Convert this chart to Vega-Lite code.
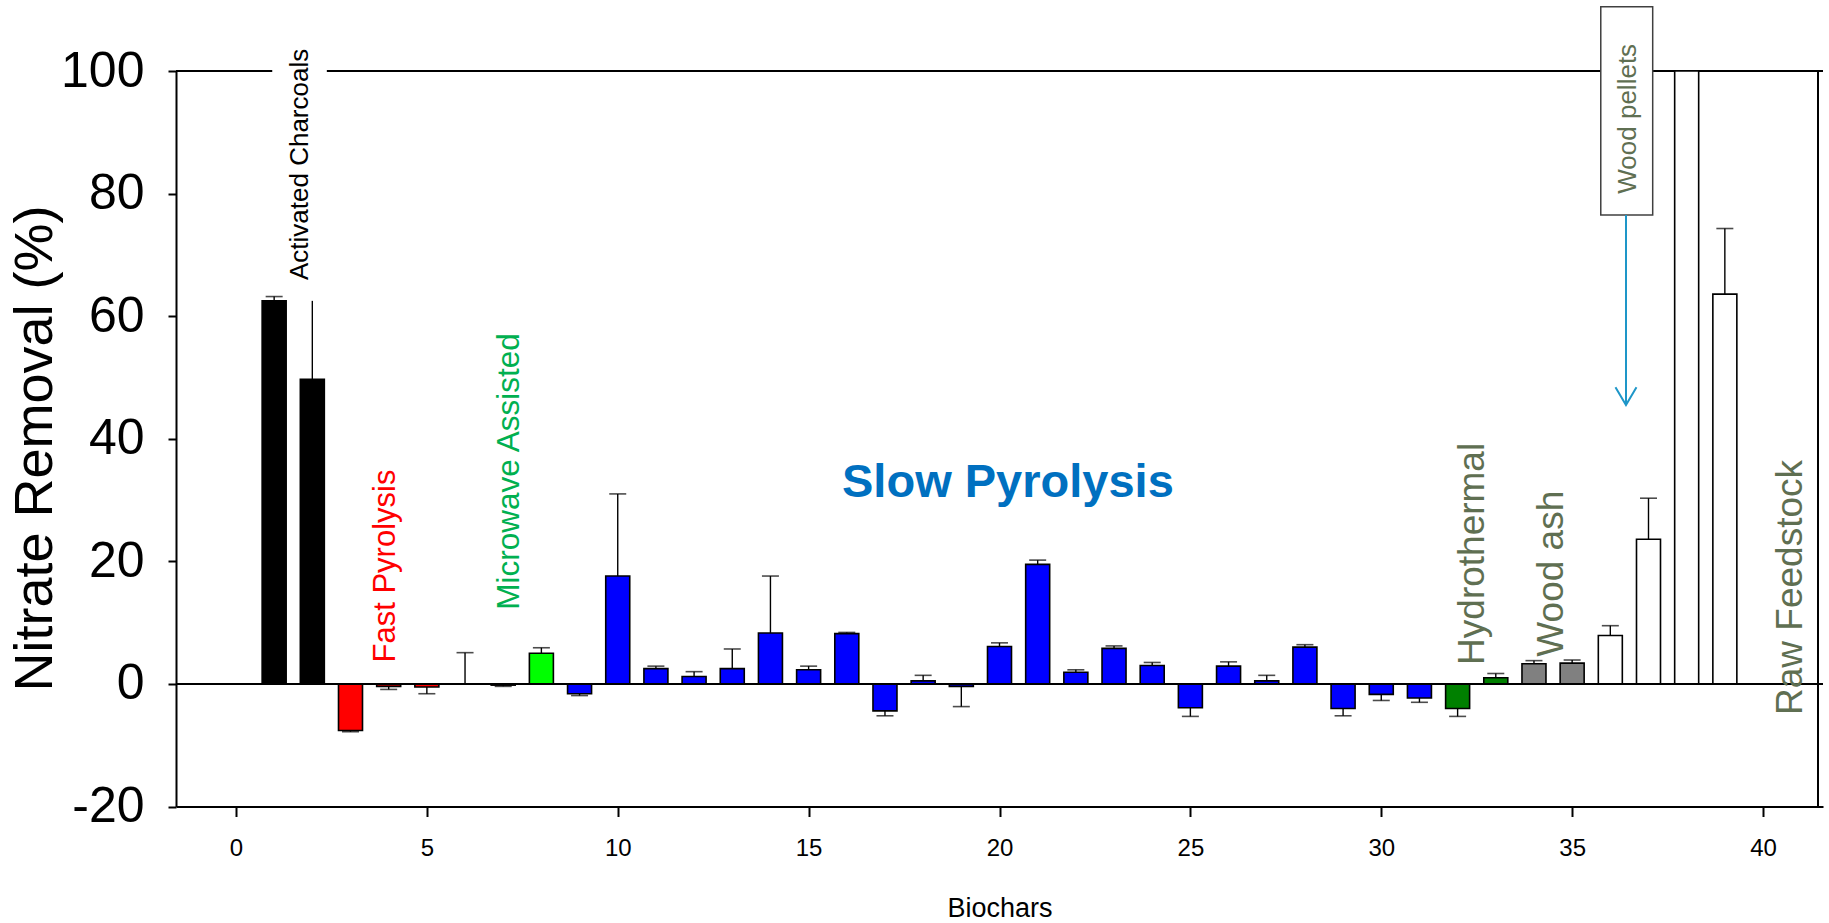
{
  "$schema": "https://vega.github.io/schema/vega-lite/v6.json",
  "width": 1647,
  "height": 735.5,
  "autosize": "none",
  "padding": {"left": 176, "top": 71, "right": 6, "bottom": 116.5},
  "background": "white",
  "config": {"view": {"stroke": null}, "axis": {"grid": false}},
  "data": {"values": [{}]},
  "datasets": {
    "bars": [
      {"n": 1, "g": "Activated charcoal", "v": 62.5, "e": 63.2, "c": 63.2},
      {"n": 2, "g": "Activated charcoal", "v": 49.7, "e": 62.5, "c": null},
      {"n": 3, "g": "Fast pyrolysis", "v": -7.6, "e": -7.8, "c": -7.8},
      {"n": 4, "g": "Fast pyrolysis", "v": -0.4, "e": -0.9, "c": -0.9},
      {"n": 5, "g": "Fast pyrolysis", "v": -0.5, "e": -1.6, "c": -1.6},
      {"n": 6, "g": "Fast pyrolysis", "v": 0, "e": 5.1, "c": 5.1},
      {"n": 7, "g": "Fast pyrolysis", "v": -0.2, "e": -0.4, "c": -0.4},
      {"n": 8, "g": "Microwave assisted", "v": 5.0, "e": 5.9, "c": 5.9},
      {"n": 9, "g": "Slow pyrolysis", "v": -1.6, "e": -1.9, "c": -1.9},
      {"n": 10, "g": "Slow pyrolysis", "v": 17.6, "e": 31.0, "c": 31.0},
      {"n": 11, "g": "Slow pyrolysis", "v": 2.5, "e": 2.9, "c": 2.9},
      {"n": 12, "g": "Slow pyrolysis", "v": 1.2, "e": 2.0, "c": 2.0},
      {"n": 13, "g": "Slow pyrolysis", "v": 2.5, "e": 5.7, "c": 5.7},
      {"n": 14, "g": "Slow pyrolysis", "v": 8.3, "e": 17.6, "c": 17.6},
      {"n": 15, "g": "Slow pyrolysis", "v": 2.3, "e": 2.9, "c": 2.9},
      {"n": 16, "g": "Slow pyrolysis", "v": 8.2, "e": 8.4, "c": 8.4},
      {"n": 17, "g": "Slow pyrolysis", "v": -4.4, "e": -5.2, "c": -5.2},
      {"n": 18, "g": "Slow pyrolysis", "v": 0.5, "e": 1.4, "c": 1.4},
      {"n": 19, "g": "Slow pyrolysis", "v": -0.4, "e": -3.7, "c": -3.7},
      {"n": 20, "g": "Slow pyrolysis", "v": 6.1, "e": 6.7, "c": 6.7},
      {"n": 21, "g": "Slow pyrolysis", "v": 19.5, "e": 20.2, "c": 20.2},
      {"n": 22, "g": "Slow pyrolysis", "v": 1.9, "e": 2.3, "c": 2.3},
      {"n": 23, "g": "Slow pyrolysis", "v": 5.8, "e": 6.2, "c": 6.2},
      {"n": 24, "g": "Slow pyrolysis", "v": 3.0, "e": 3.5, "c": 3.5},
      {"n": 25, "g": "Slow pyrolysis", "v": -3.9, "e": -5.3, "c": -5.3},
      {"n": 26, "g": "Slow pyrolysis", "v": 2.9, "e": 3.6, "c": 3.6},
      {"n": 27, "g": "Slow pyrolysis", "v": 0.5, "e": 1.4, "c": 1.4},
      {"n": 28, "g": "Slow pyrolysis", "v": 6.0, "e": 6.4, "c": 6.4},
      {"n": 29, "g": "Slow pyrolysis", "v": -4.0, "e": -5.2, "c": -5.2},
      {"n": 30, "g": "Slow pyrolysis", "v": -1.7, "e": -2.7, "c": -2.7},
      {"n": 31, "g": "Slow pyrolysis", "v": -2.3, "e": -3.0, "c": -3.0},
      {"n": 32, "g": "Hydrothermal", "v": -4.0, "e": -5.3, "c": -5.3},
      {"n": 33, "g": "Hydrothermal", "v": 1.0, "e": 1.7, "c": 1.7},
      {"n": 34, "g": "Wood ash", "v": 3.3, "e": 3.8, "c": 3.8},
      {"n": 35, "g": "Wood ash", "v": 3.4, "e": 3.9, "c": 3.9},
      {"n": 36, "g": "Raw feedstock", "v": 7.9, "e": 9.5, "c": 9.5},
      {"n": 37, "g": "Raw feedstock", "v": 23.6, "e": 30.3, "c": 30.3},
      {"n": 38, "g": "Raw feedstock", "v": 100, "e": null, "c": null},
      {"n": 39, "g": "Raw feedstock", "v": 63.6, "e": 74.3, "c": 74.3}
    ]
  },
  "layer": [
    {
      "mark": {"type": "rule", "color": "black", "strokeWidth": 2},
      "encoding": {"y": {"datum": 100, "scale": {"domain": [-20, 100], "nice": false, "zero": false}}}
    },
    {
      "mark": {"type": "rule", "color": "black", "strokeWidth": 2},
      "encoding": {"x": {"datum": 41.44, "scale": {"domain": [-1.44, 41.44], "nice": false, "zero": false}}}
    },
    {
      "data": {"name": "bars"},
      "mark": {"type": "bar", "orient": "vertical", "width": 24, "stroke": "black", "strokeWidth": 1.6},
      "encoding": {
        "x": {
          "field": "n", "type": "quantitative",
          "scale": {"domain": [-1.44, 41.44], "nice": false, "zero": false},
          "axis": {
            "title": "Biochars",
            "values": [0, 5, 10, 15, 20, 25, 30, 35, 40],
            "tickSize": 10, "tickWidth": 2, "tickColor": "black",
            "domainColor": "black", "domainWidth": 2,
            "labelFont": "Liberation Sans", "labelFontSize": 24, "labelColor": "black",
            "labelPadding": 20, "labelFlush": false, "labelOverlap": false,
            "titleFont": "Liberation Sans", "titleFontSize": 27, "titleFontWeight": "normal",
            "titleColor": "black", "titleY": 110, "titleBaseline": "alphabetic"
          }
        },
        "y": {
          "field": "v", "type": "quantitative",
          "scale": {"domain": [-20, 100], "nice": false, "zero": false},
          "axis": {
            "title": "Nitrate Removal (%)",
            "values": [-20, 0, 20, 40, 60, 80, 100],
            "labelExpr": "'' + datum.value",
            "tickSize": 8, "tickWidth": 2, "tickColor": "black",
            "domainColor": "black", "domainWidth": 2,
            "labelFont": "Liberation Sans", "labelFontSize": 50, "labelColor": "black",
            "labelPadding": 24, "labelFlush": false, "labelOverlap": false,
            "titleFont": "Liberation Sans", "titleFontSize": 54, "titleFontWeight": "normal",
            "titleColor": "black", "titleAngle": 270, "titleX": -125, "titleY": 377, "titleBaseline": "alphabetic"
          }
        },
        "y2": {"datum": 0},
        "color": {
          "field": "g", "type": "nominal", "legend": null,
          "scale": {
            "domain": ["Activated charcoal", "Fast pyrolysis", "Microwave assisted", "Slow pyrolysis", "Hydrothermal", "Wood ash", "Raw feedstock"],
            "range": ["#000000", "#ff0000", "#00ff00", "#0000ff", "#008000", "#808080", "#ffffff"]
          }
        }
      }
    },
    {
      "data": {"name": "bars"},
      "transform": [{"filter": "datum.e != null"}],
      "mark": {"type": "rule", "color": "black", "strokeWidth": 1.4},
      "encoding": {
        "x": {"field": "n", "type": "quantitative", "scale": {"domain": [-1.44, 41.44], "nice": false, "zero": false}},
        "y": {"field": "v", "type": "quantitative", "scale": {"domain": [-20, 100], "nice": false, "zero": false}},
        "y2": {"field": "e"}
      }
    },
    {
      "data": {"name": "bars"},
      "transform": [{"filter": "datum.c != null"}],
      "mark": {"type": "tick", "orient": "horizontal", "color": "black", "size": 17, "thickness": 1.6},
      "encoding": {
        "x": {"field": "n", "type": "quantitative", "scale": {"domain": [-1.44, 41.44], "nice": false, "zero": false}},
        "y": {"field": "c", "type": "quantitative", "scale": {"domain": [-20, 100], "nice": false, "zero": false}}
      }
    },
    {
      "mark": {"type": "rule", "color": "black", "strokeWidth": 2},
      "encoding": {"y": {"datum": 0}}
    },
    {
      "mark": {"type": "rect", "color": "white"},
      "encoding": {
        "x": {"datum": 0.95}, "x2": {"datum": 2.38},
        "y": {"datum": 97.5}, "y2": {"datum": 102.5}
      }
    },
    {
      "data": {"values": [{"t": "Activated Charcoals", "n": 1.68, "v": 65.9}]},
      "mark": {"type": "text", "angle": 270, "align": "left", "baseline": "middle", "font": "Liberation Sans", "fontSize": 26, "color": "black"},
      "encoding": {
        "x": {"field": "n", "type": "quantitative"},
        "y": {"field": "v", "type": "quantitative"},
        "text": {"field": "t"}
      }
    },
    {
      "data": {"values": [{"t": "Fast Pyrolysis", "n": 3.92, "v": 3.5}]},
      "mark": {"type": "text", "angle": 270, "align": "left", "baseline": "middle", "font": "Liberation Sans", "fontSize": 31, "color": "#ff0000"},
      "encoding": {
        "x": {"field": "n", "type": "quantitative"},
        "y": {"field": "v", "type": "quantitative"},
        "text": {"field": "t"}
      }
    },
    {
      "data": {"values": [{"t": "Microwave Assisted", "n": 7.19, "v": 12.1}]},
      "mark": {"type": "text", "angle": 270, "align": "left", "baseline": "middle", "font": "Liberation Sans", "fontSize": 31.5, "color": "#00b050"},
      "encoding": {
        "x": {"field": "n", "type": "quantitative"},
        "y": {"field": "v", "type": "quantitative"},
        "text": {"field": "t"}
      }
    },
    {
      "data": {"values": [{"t": "Slow Pyrolysis", "n": 20.22, "v": 30.55}]},
      "mark": {"type": "text", "align": "center", "baseline": "alphabetic", "font": "Liberation Sans", "fontWeight": "bold", "fontSize": 47, "color": "#0070c0"},
      "encoding": {
        "x": {"field": "n", "type": "quantitative"},
        "y": {"field": "v", "type": "quantitative"},
        "text": {"field": "t"}
      }
    },
    {
      "data": {"values": [
        {"t": "Hydrothermal", "n": 32.4, "v": 3.1},
        {"t": "Wood ash", "n": 34.46, "v": 4.45},
        {"t": "Raw Feedstock", "n": 40.72, "v": -5.06}
      ]},
      "mark": {"type": "text", "angle": 270, "align": "left", "baseline": "middle", "font": "Liberation Sans", "fontSize": 37, "color": "#5f6f52"},
      "encoding": {
        "x": {"field": "n", "type": "quantitative"},
        "y": {"field": "v", "type": "quantitative"},
        "text": {"field": "t"}
      }
    },
    {
      "mark": {"type": "rect", "fill": "white", "stroke": "#404040", "strokeWidth": 1.5},
      "encoding": {
        "x": {"datum": 35.75}, "x2": {"datum": 37.11},
        "y": {"datum": 76.5}, "y2": {"datum": 110.5}
      }
    },
    {
      "data": {"values": [{"t": "Wood pellets", "n": 36.45, "v": 92.2}]},
      "mark": {"type": "text", "angle": 270, "align": "center", "baseline": "middle", "font": "Liberation Sans", "fontSize": 26, "color": "#5f6f52"},
      "encoding": {
        "x": {"field": "n", "type": "quantitative"},
        "y": {"field": "v", "type": "quantitative"},
        "text": {"field": "t"}
      }
    },
    {
      "mark": {"type": "rule", "color": "#1e96c8", "strokeWidth": 2},
      "encoding": {
        "x": {"datum": 36.41},
        "y": {"datum": 76.5}, "y2": {"datum": 45.5}
      }
    },
    {
      "mark": {"type": "point", "shape": "M -1 -1.7 L 0 0 L 1 -1.7", "filled": false, "stroke": "#1e96c8", "strokeWidth": 2, "size": 441, "opacity": 1},
      "encoding": {
        "x": {"datum": 36.41},
        "y": {"datum": 45.5}
      }
    }
  ]
}
